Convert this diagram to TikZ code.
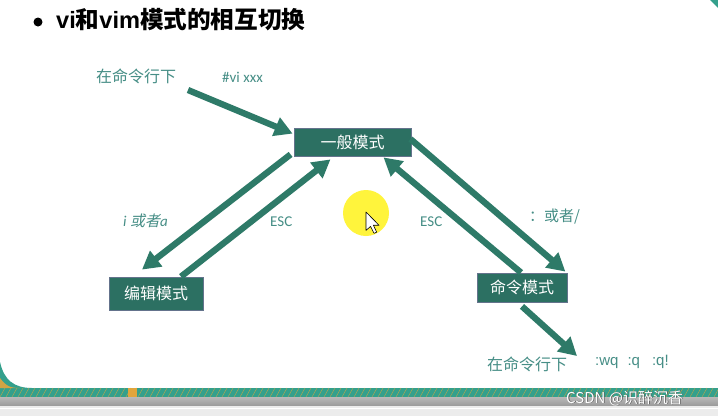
\documentclass[tikz,border=0pt]{standalone}
\usepackage{fontspec}
\setmainfont{Carlito}
\newfontfamily\cjk{Noto Sans CJK SC}
\newfontfamily\cjkit[FakeSlant=0.22]{Noto Sans CJK SC}
\newfontfamily\latsans{Liberation Sans}
\usetikzlibrary{arrows.meta,calc}
\definecolor{arrowc}{RGB}{46,122,104}
\definecolor{boxc}{RGB}{44,112,98}
\definecolor{boxline}{RGB}{100,115,140}
\definecolor{labc}{RGB}{70,142,134}
\definecolor{bandteal}{RGB}{52,160,140}
\definecolor{bandorange}{RGB}{225,165,60}
\definecolor{hiyellow}{RGB}{255,244,60}
\begin{document}
\begin{tikzpicture}[x=1pt,y=-1pt,
  mode/.style={draw=boxline,line width=0.8pt,fill=boxc,text=white,
    font=\cjk\fontsize{16}{16}\selectfont,inner sep=0pt},
  bigarrow/.style={draw=arrowc,line width=6.3pt,-{Triangle[width=19pt,length=18pt]}},
  lab/.style={text=labc,inner sep=0pt,anchor=west},
  cjklab/.style={lab,font=\cjk\fontsize{16}{16}\selectfont},
  latlab/.style={lab,font=\fontsize{15}{15}\selectfont},
]
\useasboundingbox (0,0) rectangle (718,416);
\fill[white] (0,0) rectangle (718,416);

% bottom decoration
\fill[bandteal] (0,388) rectangle (718,397);
\fill[bandteal] (0,362) .. controls (4,380) and (14,388) .. (32,388) -- (0,390) -- cycle;
\foreach \i in {0,6,...,718} {
  \draw[bandorange!70!bandteal,line width=0.5pt] (\i,397) -- (\i+5,388);
}
\fill[bandorange] (128,388) rectangle (137,397);
\fill[bandorange!90!bandteal] (0,378) .. controls (6,386) and (10,388) .. (20,388) -- (0,388) -- cycle;
\shade[top color=gray!55,bottom color=gray!80] (0,397) rectangle (718,406);
\fill[gray!15] (0,406) rectangle (718,416);
\draw[white,line width=0.8pt] (0,408) -- (718,408);
\fill[bandteal] (710,0) -- (718,0) -- (718,8) -- cycle;

% title
\fill[black] (38,22) circle (4.5);
\node[anchor=west,inner sep=0pt] (title) at (56,20)
  {\fontsize{23.6}{23.6}\selectfont\bfseries{\latsans vi}{\cjk 和}{\latsans vim}{\cjk 模式的相互切换}};

% mode boxes
\node[mode,minimum width=117pt,minimum height=28pt] (gen) at (352.5,142) {一般模式};
\node[mode,minimum width=94pt,minimum height=33pt] (edit) at (156,293.5) {编辑模式};
\node[mode,minimum width=90pt,minimum height=29pt] (cmd) at (522,287.5) {命令模式};

% labels
\node[cjklab] (shell1) at (96,76) {在命令行下};
\node[latlab] (vicmd) at (222,77) {\#vi xxx};
\node[lab,font=\fontsize{15}{15}\selectfont] (ia) at (123,221) {\itshape i {\cjkit 或者}a};
\node[latlab] (esc1) at (270,222) {ESC};
\node[latlab] (esc2) at (420,222) {ESC};
\node[cjklab,font=\cjk\fontsize{15}{15}\selectfont] (colon) at (529,217) {：或者/};
\node[cjklab] (shell2) at (487,364) {在命令行下};
\node[lab,font=\latsans\fontsize{15}{15}\selectfont] (quit) at (595,362)
  {:wq\hspace{9pt}:q\hspace{12pt}:q!};

% arrows
\coordinate (s0) at (188,90);
\coordinate (e6) at (577,356);
\draw[bigarrow] (s0) -- ($(gen.north west)+(-1,6)$);
\draw[bigarrow] ($(gen.south west)+(-3,-2)$) -- ($(edit.north)+(-14,-7)$);
\draw[bigarrow] ($(edit.north)+(25,0)$) -- ($(gen.south)+(-22,3)$);
\draw[bigarrow] ($(cmd.north)+(-1,0)$) -- ($(gen.south)+(31,1)$);
\draw[bigarrow] ($(gen.east)+(-1,-3)$) -- ($(cmd.north east)+(-2,-1)$);
\draw[bigarrow] ($(cmd.south)+(0,4)$) -- (e6);

% pointer highlight
\fill[hiyellow] (366,213) circle (23);
\begin{scope}[shift={(366,212)},scale=1.15]
  \filldraw[fill=white,draw=black,line width=0.6pt,line join=round]
    (0,0) -- (0,16) -- (4,12.5) -- (7,18.5) -- (9.3,17.5) -- (6.4,11.5) -- (11.3,11.5) -- cycle;
\end{scope}

% watermark
\node[anchor=west,inner sep=0pt,text=gray!70!black,font=\cjk\fontsize{15}{15}\selectfont]
  (wm0) at (566.8,398.8) {CSDN @识醉沉香};
\node[anchor=west,inner sep=0pt,text=white,font=\cjk\fontsize{15}{15}\selectfont]
  (wm) at (566,398) {CSDN @识醉沉香};
\end{tikzpicture}
\end{document}
